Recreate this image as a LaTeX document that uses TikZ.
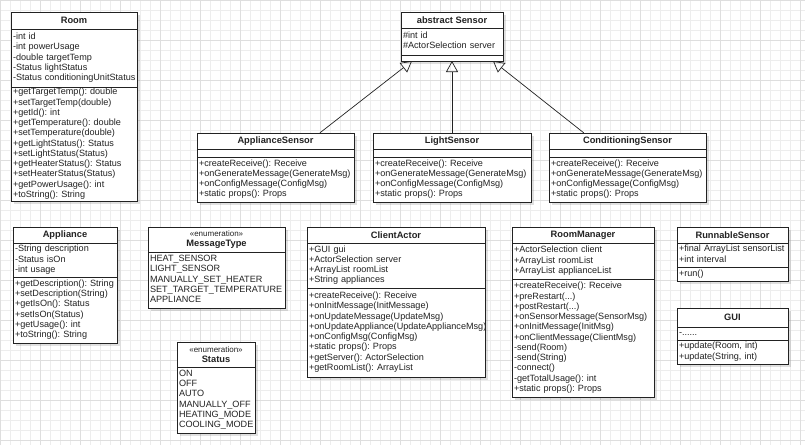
\documentclass[tikz,border=0pt]{standalone}
\usepackage{fontspec}
\setmainfont{Liberation Sans}
\usetikzlibrary{arrows.meta,shadows,fit,calc}
\frenchspacing
\newcommand\memfont{\fontsize{9.1}{10.25}\selectfont}
\newcommand\ttlfont{\fontsize{9.3}{10.5}\selectfont\bfseries}
\newcommand\stfont{\fontsize{8}{9}\selectfont\mdseries}
\newcommand\lns[1]{\begin{tabular}{@{}l@{}}#1\end{tabular}}
\definecolor{gridminor}{HTML}{EDEDED}
\definecolor{gridmajor}{HTML}{DEDEDE}
\definecolor{ink}{HTML}{222222}
\tikzset{
  umlbox/.style={draw=ink, line width=0.7pt, fill=white, anchor=north west,
    inner sep=0pt, outer sep=0pt, text=ink,
    drop shadow={shadow xshift=3pt, shadow yshift=-3pt, opacity=0.12, fill=black}},
  umlhead/.style={umlbox, font=\ttlfont, align=center},
  umlcomp/.style={umlbox, font=\memfont, align=left, inner xsep=2pt},
  inh/.style={draw=ink, line width=0.7pt, -{Triangle[open, length=11pt, width=12pt]}},
}
\begin{document}
\begin{tikzpicture}[x=1pt, y=-1pt]
\useasboundingbox (0,0) rectangle (805,445);
\fill[white] (0,0) rectangle (805,445);
\draw[gridminor, line width=0.5pt, step=10pt] (0,0) grid (805,445);
\draw[gridmajor, line width=0.5pt, step=40pt] (0,0) grid (805,445);

% Room
\node[umlhead, minimum width=126, minimum height=17] (room-h) at (11,12) {Room};
\node[umlcomp, text width=122pt, minimum height=58] (room-a) at (room-h.south west)
  {\lns{-int id\\-int powerUsage\\-double targetTemp\\-Status lightStatus\\-Status conditioningUnitStatus}};
\node[umlcomp, text width=122pt, minimum height=114] (room-m) at (room-a.south west)
  {\lns{+getTargetTemp(): double\\+setTargetTemp(double)\\+getId(): int\\+getTemperature(): double\\+setTemperature(double)\\+getLightStatus(): Status\\+setLightStatus(Status)\\+getHeaterStatus(): Status\\+setHeaterStatus(Status)\\+getPowerUsage(): int\\+toString(): String}};

% abstract Sensor
\node[umlhead, minimum width=102, minimum height=16] (sen-h) at (401,12) {abstract Sensor};
\node[umlcomp, text width=98pt, minimum height=27] (sen-a) at (sen-h.south west)
  {\lns{\#int id\\\#ActorSelection server}};
\node[umlbox, minimum width=102, minimum height=6] (sen-m) at (sen-a.south west) {};

% ApplianceSensor
\node[umlhead, minimum width=157, minimum height=16] (aps-h) at (197,133) {ApplianceSensor};
\node[umlbox, minimum width=157, minimum height=8] (aps-a) at (aps-h.south west) {};
\node[umlcomp, text width=153pt, minimum height=45] (aps-m) at (aps-a.south west)
  {\lns{+createReceive(): Receive\\+onGenerateMessage(GenerateMsg)\\+onConfigMessage(ConfigMsg)\\+static props(): Props}};
\node[fit=(aps-h)(aps-m), inner sep=0pt] (aps) {};

% LightSensor
\node[umlhead, minimum width=158, minimum height=16] (lis-h) at (373,133) {LightSensor};
\node[umlbox, minimum width=158, minimum height=8] (lis-a) at (lis-h.south west) {};
\node[umlcomp, text width=154pt, minimum height=45] (lis-m) at (lis-a.south west)
  {\lns{+createReceive(): Receive\\+onGenerateMessage(GenerateMsg)\\+onConfigMessage(ConfigMsg)\\+static props(): Props}};
\node[fit=(lis-h)(lis-m), inner sep=0pt] (lis) {};

% ConditioningSensor
\node[umlhead, minimum width=157, minimum height=16] (cos-h) at (549,133) {ConditioningSensor};
\node[umlbox, minimum width=157, minimum height=8] (cos-a) at (cos-h.south west) {};
\node[umlcomp, text width=153pt, minimum height=45] (cos-m) at (cos-a.south west)
  {\lns{+createReceive(): Receive\\+onGenerateMessage(GenerateMsg)\\+onConfigMessage(ConfigMsg)\\+static props(): Props}};
\node[fit=(cos-h)(cos-m), inner sep=0pt] (cos) {};

% inheritance
\coordinate (s1) at ($(sen-m.south west)!0.108!(sen-m.south east)$);
\coordinate (s2) at ($(sen-m.south west)!0.5!(sen-m.south east)$);
\coordinate (s3) at ($(sen-m.south west)!0.902!(sen-m.south east)$);
\draw[inh] (aps) -- (s1);
\draw[inh] (lis) -- (s2);
\draw[inh] (cos) -- (s3);

% Appliance
\node[umlhead, minimum width=104, minimum height=16] (app-h) at (13,227) {Appliance};
\node[umlcomp, text width=100pt, minimum height=34] (app-a) at (app-h.south west)
  {\lns{-String description\\-Status isOn\\-int usage}};
\node[umlcomp, text width=100pt, minimum height=66] (app-m) at (app-a.south west)
  {\lns{+getDescription(): String\\+setDescription(String)\\+getIsOn(): Status\\+setIsOn(Status)\\+getUsage(): int\\+toString(): String}};

% MessageType
\node[umlhead, minimum width=137, minimum height=25] (msg-h) at (148,227)
  {{\stfont «enumeration»}\\MessageType};
\node[umlcomp, text width=133pt, minimum height=56] (msg-a) at (msg-h.south west)
  {\lns{HEAT\_SENSOR\\LIGHT\_SENSOR\\MANUALLY\_SET\_HEATER\\SET\_TARGET\_TEMPERATURE\\APPLIANCE}};

% Status
\node[umlhead, minimum width=78, minimum height=25] (sta-h) at (177,342)
  {{\stfont «enumeration»}\\Status};
\node[umlcomp, text width=74pt, minimum height=66] (sta-a) at (sta-h.south west)
  {\lns{ON\\OFF\\AUTO\\MANUALLY\_OFF\\HEATING\_MODE\\COOLING\_MODE}};

% ClientActor
\node[umlhead, minimum width=178, minimum height=16] (cli-h) at (307,227) {ClientActor};
\node[umlcomp, text width=174pt, minimum height=45] (cli-a) at (cli-h.south west)
  {\lns{+GUI gui\\+ActorSelection server\\+ArrayList roomList\\+String appliances}};
\node[umlcomp, text width=174pt, minimum height=89] (cli-m) at (cli-a.south west)
  {\lns{+createReceive(): Receive\\+onInitMessage(InitMessage)\\+onUpdateMessage(UpdateMsg)\\+onUpdateAppliance(UpdateApplianceMsg)\\+onConfigMsg(ConfigMsg)\\+static props(): Props\\+getServer(): ActorSelection\\+getRoomList(): ArrayList}};

% RoomManager
\node[umlhead, minimum width=142, minimum height=16] (rm-h) at (512,227) {RoomManager};
\node[umlcomp, text width=138pt, minimum height=36] (rm-a) at (rm-h.south west)
  {\lns{+ActorSelection client\\+ArrayList roomList\\+ArrayList applianceList}};
\node[umlcomp, text width=138pt, minimum height=118] (rm-m) at (rm-a.south west)
  {\lns{+createReceive(): Receive\\+preRestart(...)\\+postRestart(...)\\+onSensorMessage(SensorMsg)\\+onInitMessage(InitMsg)\\+onClientMessage(ClientMsg)\\-send(Room)\\-send(String)\\-connect()\\-getTotalUsage(): int\\+static props(): Props}};

% RunnableSensor
\node[umlhead, minimum width=111, minimum height=16] (run-h) at (677,227) {RunnableSensor};
\node[umlcomp, text width=107pt, minimum height=24] (run-a) at (run-h.south west)
  {\lns{+final ArrayList sensorList\\+int interval}};
\node[umlcomp, text width=107pt, minimum height=14] (run-m) at (run-a.south west)
  {\lns{+run()}};

% GUI
\node[umlhead, minimum width=111, minimum height=19] (gui-h) at (677,308) {GUI};
\node[umlcomp, text width=107pt, minimum height=13] (gui-a) at (gui-h.south west)
  {\lns{-......}};
\node[umlcomp, text width=107pt, minimum height=24] (gui-m) at (gui-a.south west)
  {\lns{+update(Room, int)\\+update(String, int)}};
\end{tikzpicture}
\end{document}
